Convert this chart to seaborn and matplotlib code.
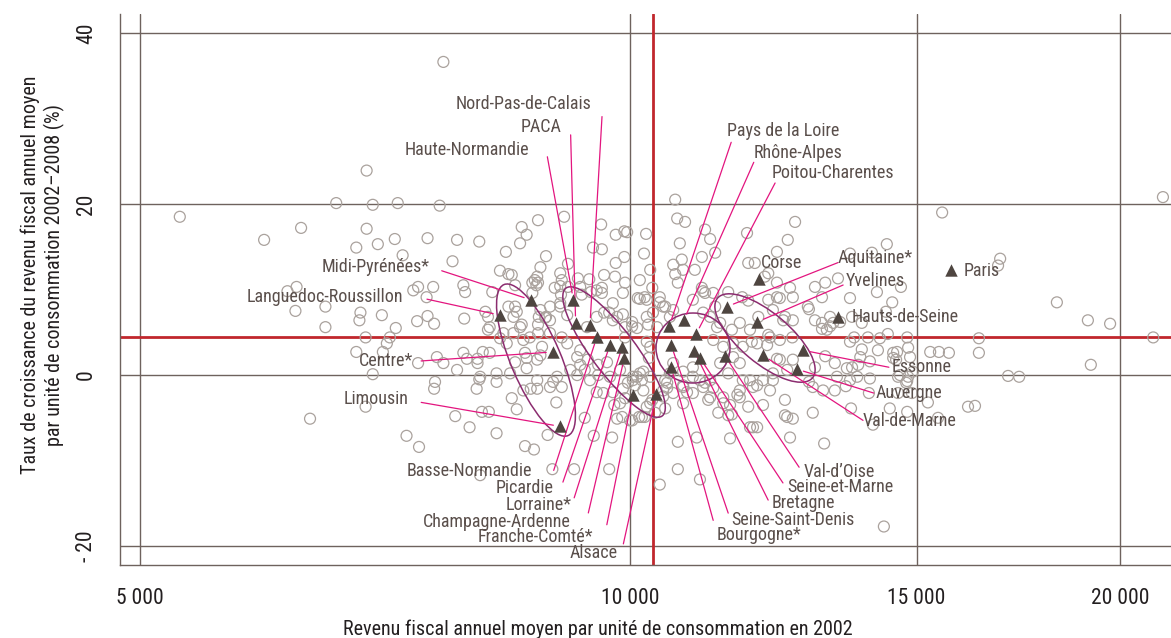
import pandas as pd
import seaborn as sns
import matplotlib.pyplot as plt
from matplotlib import font_manager
from matplotlib.patches import Ellipse
from matplotlib.ticker import NullLocator
from matplotlib.transforms import IdentityTransform, ScaledTranslation

# zones: (revenu fiscal 2002, croissance 2002-2008 en %)
zones_ouest = [
    (5290, 18.5), (5960, 15.8), (6280, 17.2), (6600, 20.1), (6890, 23.9), (6950, 19.9), (7200, 20.1),
    (6890, 17.1), (6790, 14.9), (7000, 15.3), (7170, 15.9), (6160, 9.8), (6240, 10.3), (6230, 7.5),
    (6500, 8.0), (6830, 7.3), (7040, 7.0), (6820, 6.4), (6500, 5.6), (6880, 4.4), (7090, 3.7),
    (7120, 4.4), (6790, 2.7), (7050, 2.7), (6950, 0.1), (6880, -3.7), (6360, -5.1), (7180, 5.5),
    (7680, 36.6), (7640, 19.8), (7510, 16.0), (7830, 15.8), (7250, 14.0), (7780, 13.3), (7410, 10.3),
    (7360, 9.9), (7570, 10.3), (7500, 9.1), (7400, 6.3), (7510, 6.9), (7580, 6.0), (7410, 1.4),
    (7680, 1.4), (7580, -1.6), (7810, -4.8), (7290, -7.1), (7420, -8.4),
]

zones_centre = [
    (9110, 18.5), (8780, 18.1), (9600, 17.6), (8580, 17.3), (8640, 16.4), (9800, 16.4), (9920, 16.8),
    (9960, 16.7), (10230, 16.5), (8880, 13.9), (8560, 15.4), (8390, 14.4), (8080, 15.6), (9490, 14.9),
    (9610, 14.7), (10200, 14.2), (9800, 13.1), (9920, 13.8), (9160, 13.0), (8810, 12.6), (8320, 12.2),
    (8420, 11.8), (8740, 11.1), (9060, 11.9), (9080, 11.1), (9290, 11.3), (9440, 11.2), (9640, 11.7),
    (9790, 11.5), (9930, 10.8), (10140, 8.9), (10210, 9.1), (9610, 10.2), (9460, 9.7), (8760, 10.5),
    (8710, 9.6), (8500, 8.0), (8520, 7.4), (8810, 7.6), (8930, 8.0), (8880, 6.8), (9060, 8.0),
    (9150, 7.0), (9540, 6.8), (9640, 7.3), (9760, 6.4), (10030, 6.2), (9930, 5.6), (10100, 5.5),
    (9930, 4.4), (10240, 3.9), (10290, 3.3), (10270, 2.0), (10190, 0.4), (10290, -0.2), (10040, -0.2),
    (9970, -0.9), (9860, 0.6), (9680, 1.5), (9420, 1.8), (9280, 2.1), (9320, 2.9), (9150, 3.7),
    (9080, 4.4), (8930, 4.9), (8780, 4.9), (8560, 5.6), (8480, 4.9), (8400, 3.7), (8600, 4.1),
    (8200, 5.6), (8320, 4.3), (8120, 2.7), (8060, 1.9), (7940, 1.9), (7900, 2.6), (7830, 0.6),
    (7610, 2.1), (7590, -0.8), (8090, -0.2), (8280, 0.2), (8280, -0.8), (8440, 0.2), (8640, 0.8),
    (8770, -0.6), (8600, -1.8), (8970, -0.8), (9080, -1.4), (9190, 0.6), (9320, 1.2), (9560, 1.2),
    (9560, 0.0), (9720, -0.2), (9450, -0.6), (9540, -2.0), (9760, -2.0), (9930, -2.7), (10190, -1.8),
    (10320, -2.9), (10480, -2.5), (10540, -0.9),
    (8460, 11.7), (8770, 11.5), (8780, 10.8), (8710, 10.8), (10290, 12.3), (9060, 10.4), (8990, 10.2),
    (9160, 10.3), (8500, 10.5), (7900, 10.5), (7920, 9.7), (8230, 9.7), (8150, 7.4), (7910, 6.6),
    (8180, 6.8), (8420, 8.0), (8480, 6.8), (8580, 5.9), (9060, 8.4), (9070, 9.4), (9320, 10.3),
    (9340, 9.4), (9540, 9.9), (9610, 9.6), (9900, 9.6), (9760, 8.4), (9710, 7.3), (9820, 6.8),
    (9900, 7.1), (10240, 6.8), (10030, 5.7), (10260, 5.9), (9410, 5.6), (8930, 6.4), (8870, 6.7),
    (8790, 6.8), (8780, 5.9), (10110, 9.0),
    (8200, 2.6), (8060, 1.4), (8080, -0.5), (8050, -1.6), (7970, -6.1), (8280, -6.8), (8460, -2.7),
    (8520, -4.0), (8110, -4.3), (8190, -4.3), (8690, -1.6), (8770, -1.6), (8930, -1.4), (9020, -0.2),
    (9010, -3.2), (8900, -7.0), (8620, -8.3), (8730, -8.7), (8960, -11.0), (9240, -11.0), (9380, -5.0),
    (9500, -7.1), (9750, -7.3), (9710, -11.0), (9820, -5.1), (9780, -3.5), (9630, -2.1), (9280, 0.0),
    (9380, 0.6), (10100, -0.2), (10070, -1.2), (10170, -0.6), (9900, -1.6), (9860, -3.3), (10030, -5.3),
    (10170, -4.9), (10240, -3.7), (9890, -4.9), (8180, 5.3), (8360, 4.9), (8680, 4.4), (8830, 3.3),
    (8640, 2.0), (8500, 1.5), (8770, 1.8), (8810, 2.3), (8620, 2.6),
    (8090, -11.7), (10040, -0.6), (10140, 0.2), (10000, -5.3), (10130, -4.9), (10430, -12.8),
]

zones_est = [
    (10700, -7.8), (10990, -7.3), (10700, -11.0), (11040, -12.2), (11520, -7.4), (11680, -1.8),
    (11970, -6.1), (12190, -1.8), (12450, -4.7), (12590, -5.1), (12540, -7.3), (12450, -2.9),
    (10540, -1.5), (10510, -0.6), (10780, 0.4), (10930, -0.2), (11120, -0.9),
    (10660, 20.5), (10690, 18.3), (10810, 17.9), (11120, 17.0), (11200, 15.9), (10730, 15.4),
    (11280, 14.3), (11070, 13.8), (10760, 13.5), (10630, 12.9), (10780, 12.3), (10660, 11.8),
    (10700, 10.8), (11070, 10.2), (11120, 9.6), (10930, 8.8), (11250, 9.6), (11490, 9.7), (11720, 9.1),
    (11800, 16.6), (12500, 15.8), (12630, 17.9), (12310, 14.4), (11930, 13.1), (11820, 13.1),
    (12160, 11.9), (12310, 10.8), (12540, 10.2), (12590, 9.1), (12360, 9.0), (12160, 8.8), (11990, 6.8),
    (12240, 7.6), (12450, 6.8), (11850, 5.3), (11970, 3.7), (11250, 4.1), (11410, 3.3), (11570, 3.7),
    (11730, 3.3), (11360, 1.4), (11490, 0.2), (11200, -0.6), (11040, -0.6), (10930, 0.9), (10630, 1.4),
    (10580, 0.2), (10780, -1.4), (10930, -2.1), (11200, -2.6), (11410, -2.6), (11680, -2.6),
    (11900, -1.4), (12070, -0.6), (12240, 0.2), (12360, 1.8), (12590, 1.8), (12190, 4.4), (12360, 4.1),
    (12580, 4.4), (10330, 7.3), (10390, 5.6), (10480, 8.0), (10580, 6.8), (10240, 8.8), (10320, 10.2),
    (10430, 9.1), (10140, 11.1),
    (10960, 12.3), (10430, 8.5), (10510, 8.0), (10630, 7.6), (11090, 9.8), (12100, 11.5), (12310, 9.1),
    (12990, 10.3), (13180, 10.8), (13420, 11.3), (12860, 8.0), (13270, 6.8), (13120, 6.1), (11820, 8.7),
    (11680, 6.1), (11280, 8.0), (11200, 6.8), (11360, 6.1),
]

zones_droite = [
    (21250, 20.8), (15550, 19.0), (16880, 13.6), (16830, 12.8), (18290, 8.5), (19110, 6.4), (19720, 6.0),
    (20960, 4.4), (16380, 4.3), (16380, 2.6), (19190, 1.2), (17070, -0.1), (17340, -0.2), (16130, -3.7),
    (16290, -3.6), (14380, 15.3), (13650, 14.2), (14180, 9.7), (14490, 8.5), (13650, 9.0), (12880, 7.7),
    (13120, 9.1), (12420, 6.4), (12590, 6.4), (12990, 6.4), (13270, 5.7), (13120, 5.4), (13210, 5.3),
    (13330, 6.1), (13460, 6.2), (13730, 4.4), (14000, 4.4), (14240, 4.3), (14800, 4.4), (13880, 3.0),
    (14200, 2.9), (14590, 2.7), (14820, 3.2), (13690, 0.9), (13360, 1.4), (13180, 2.2), (13570, -1.3),
    (13790, -0.2), (14040, -0.4), (14440, -3.9), (14800, -4.3), (14610, -2.1), (14900, -2.1),
    (12990, 0.9), (12880, -0.8), (12490, 0.6), (12310, 1.9), (12140, 3.5), (11880, 3.9), (12160, 4.7),
    (11570, 2.1), (11680, 1.4), (11550, 5.3), (11310, 5.6), (11090, 7.3),
    (14080, 14.3), (14670, 10.3), (14360, 7.4), (13690, 6.8), (13880, 6.1), (15290, 2.7), (15480, 2.7),
    (15700, 2.6), (14400, 4.8), (13650, 3.9), (14510, 2.6), (14860, 2.1), (14570, 1.8), (14040, 1.6),
    (13810, 1.2), (13590, 0.8), (14650, 0.0), (14820, -0.2), (14780, -0.9), (14020, -2.1), (15240, -3.2),
    (13670, -3.9), (14100, -5.8), (15460, -5.0),
    (14320, -17.7), (13160, -8.0), (12950, -4.4), (12070, -3.5), (11900, -6.1), (11550, -4.6),
    (11330, -4.4), (12950, -1.4), (13140, -1.8), (13360, -1.8), (13850, 2.1), (14800, -0.7),
    (14610, -0.2), (14920, 0.4), (14510, 2.0), (13400, -0.2), (13650, -0.6),
    (11850, -6.1), (11490, -4.7), (11820, -3.7), (12490, -4.9), (12240, -0.6), (11970, -1.2),
    (11850, -0.6), (11730, -0.6), (11250, -1.5), (11090, -1.4), (10840, -2.0), (10780, -1.2),
    (10630, -2.1), (10480, -1.8), (10290, -3.3), (10210, -4.9), (10360, -4.4), (10510, -3.9),
    (10780, -3.3), (11170, -2.9), (11410, -3.3), (11640, -2.3), (11520, -3.5),
]

# regions et departements d'Ile-de-France
regions = ["Midi-Pyrénées*", "Languedoc-Roussillon", "Centre*", "Limousin", "Haute-Normandie", "PACA",
           "Nord-Pas-de-Calais", "Basse-Normandie", "Picardie", "Lorraine*", "Champagne-Ardenne",
           "Franche-Comté*", "Alsace", "Pays de la Loire", "Rhône-Alpes", "Poitou-Charentes",
           "Seine-Saint-Denis", "Bretagne", "Seine-et-Marne", "Val-d’Oise", "Bourgogne*", "Corse",
           "Aquitaine*", "Yvelines", "Hauts-de-Seine", "Paris", "Essonne", "Auvergne", "Val-de-Marne"]
revenu = [8690, 8320, 8970, 9060, 9230, 9260, 9450, 9540, 9720, 9890, 9920, 10040, 10380, 10570,
          10790, 10980, 10600, 10950, 11040, 11440, 10600, 12000, 11470, 11970, 13420, 15750, 12770,
          12660, 12070]
croissance = [8.8, 7.0, 2.7, -6.0, 8.8, 6.1, 5.9, 4.4, 3.5, 3.3, 2.0, -2.3, -2.2, 5.7, 6.4, 4.8,
              3.5, 2.8, 2.0, 2.2, 0.9, 11.2, 8.0, 6.2, 6.8, 12.3, 2.9, 0.7, 2.3]

# moyennes (lignes rouges)
revenu_moyen = 10330
croissance_moyenne = 4.4

x_ticks = [5000, 10000, 15000, 20000]
x_labels = ["5 000", "10 000", "15 000", "20 000"]
y_ticks = [-20, 0, 20, 40]
y_labels = ["- 20", "0", "20", "40"]

# label offsets in pixels from the triangle: text (dx, dy), alignment, leader start (dx, dy)
label_layout = {
    "Nord-Pas-de-Calais": (1, -221, "right", (12, -208)),
    "PACA": (-14, -196, "right", (-5, -188)),
    "Haute-Normandie": (-44, -150, "right", (-26, -143)),
    "Midi-Pyrénées*": (-101, -33, "right", (-89, -29)),
    "Languedoc-Roussillon": (-97, -18, "right", (-73, -16)),
    "Centre*": (-140, 9, "right", (-132, 9)),
    "Limousin": (-152, -27, "right", (-139, -24)),
    "Basse-Normandie": (-65, 134, "right", (-43, 133)),
    "Picardie": (-56, 143, "right", (-47, 137)),
    "Lorraine*": (-51, 158, "right", (-48, 151)),
    "Champagne-Ardenne": (-54, 164, "right", (-36, 155)),
    "Franche-Comté*": (-40, 142, "right", (-26, 130)),
    "Alsace": (-39, 159, "right", (-33, 150)),
    "Pays de la Loire": (58, -195, "left", (62, -184)),
    "Rhône-Alpes": (70, -167, "left", (70, -158)),
    "Poitou-Charentes": (76, -161, "left", (79, -151)),
    "Corse": (2, -16, "left", None),
    "Aquitaine*": (111, -49, "left", (111, -44)),
    "Yvelines": (89, -41, "left", (86, -37)),
    "Paris": (12, 1, "left", None),
    "Hauts-de-Seine": (14, 0, "left", None),
    "Essonne": (89, 17, "left", (86, 17)),
    "Auvergne": (79, 24, "left", (77, 24)),
    "Val-de-Marne": (100, 66, "left", (100, 65)),
    "Val-d’Oise": (79, 116, "left", (74, 111)),
    "Seine-et-Marne": (87, 129, "left", (83, 125)),
    "Bretagne": (77, 152, "left", (74, 149)),
    "Seine-Saint-Denis": (60, 175, "left", (57, 168)),
    "Bourgogne*": (45, 168, "left", (42, 153)),
}

# groupes entourés: centre (donnees) + demi-axes en pixels et angle
groupes_centre = [(8755, 1.75), (9777, 2.69), (10932, 3.16), (12104, 4.33)]
groupes_forme = [(82, 25, -67), (80, 22, -53), (37, 35, 0), (62, 25, -40)]

GRID = "#6e625d"
TEXT = "#5a4f4b"
DARK = "#231f20"
CIRCLE = "#aaa29d"
TRI = "#4e4540"
RED = "#c1272d"
MAGENTA = "#e3157f"
PURPLE = "#8b2c6f"

sns.set_style("white")
installed = {f.name for f in font_manager.fontManager.ttflist}
family = ["DejaVu Sans"]
for cand in ["Roboto Condensed", "Open Sans Condensed", "Liberation Sans Narrow"]:
    if cand in installed:
        family = [cand, "DejaVu Sans"]
        break
plt.rcParams["font.family"] = family
plt.rcParams["font.stretch"] = "condensed"

fig = plt.figure(figsize=(11.71, 6.38), dpi=100)
ax = fig.add_axes([120 / 1171, 73 / 638, 1051 / 1171, 551 / 638])
ax.set_xscale("log")
ax.set_xlim(4861, 21494)
ax.set_ylim(-22.2, 42.2)

zones = pd.DataFrame(zones_ouest + zones_centre + zones_est + zones_droite,
                     columns=["revenu", "croissance"])
reg = pd.DataFrame({"nom": regions, "revenu": revenu, "croissance": croissance})

ax.axvline(revenu_moyen, color=RED, lw=2.0, zorder=1.5)
ax.axhline(croissance_moyenne, color=RED, lw=2.0, zorder=1.5)

sns.scatterplot(data=zones, x="revenu", y="croissance", ax=ax, marker="o", s=62,
                linewidth=0.9, legend=False, zorder=2)
pts = ax.collections[-1]
pts.set_facecolor("none")
pts.set_edgecolor(CIRCLE)

for (cx, cy), (a, b, ang) in zip(groupes_centre, groupes_forme):
    tr = IdentityTransform() + ScaledTranslation(cx, cy, ax.transData)
    ax.add_patch(Ellipse((0, 0), 2 * a, 2 * b, angle=ang, transform=tr, fill=False,
                         ec=PURPLE, lw=1.1, zorder=3))

for name, x, y in zip(regions, revenu, croissance):
    tdx, tdy, ha, line = label_layout[name]
    if line is not None:
        ax.annotate("", xy=(x, y), xytext=(line[0], -line[1]), textcoords="offset pixels",
                    arrowprops=dict(arrowstyle="-", color=MAGENTA, lw=0.9, shrinkA=0, shrinkB=5),
                    zorder=3)
    ax.annotate(name, xy=(x, y), xytext=(tdx, -tdy), textcoords="offset pixels",
                ha=ha, va="center", fontsize=13, color=TEXT, zorder=5)

sns.scatterplot(data=reg, x="revenu", y="croissance", ax=ax, marker="^", s=80,
                color=TRI, linewidth=0, legend=False, zorder=4)

ax.set_xticks(x_ticks)
ax.set_xticklabels(x_labels)
ax.xaxis.set_minor_locator(NullLocator())
ax.set_yticks(y_ticks)
ax.set_yticklabels(y_labels, rotation=90, va="center")
ax.tick_params(length=8.6, width=1, color=GRID, labelsize=15.5, labelcolor=DARK, pad=8)
ax.grid(True, which="major", color=GRID, lw=1)
ax.set_axisbelow(True)
for s in ["top", "right"]:
    ax.spines[s].set_visible(False)
for s in ["left", "bottom"]:
    ax.spines[s].set_color(GRID)
    ax.spines[s].set_linewidth(1)

ax.set_xlabel("Revenu fiscal annuel moyen par unité de consommation en 2002",
              fontsize=14.5, color=DARK)
ax.xaxis.label.set_va("center")
ax.xaxis.set_label_coords(0.455, -0.117)
ax.set_ylabel("Taux de croissance du revenu fiscal annuel moyen\n"
              "par unité de consommation 2002–2008 (%)", fontsize=14.5, color=DARK,
              linespacing=1.25)
ax.yaxis.set_label_coords(-0.052, 0.526)

fig.savefig("out.png", dpi=100)
